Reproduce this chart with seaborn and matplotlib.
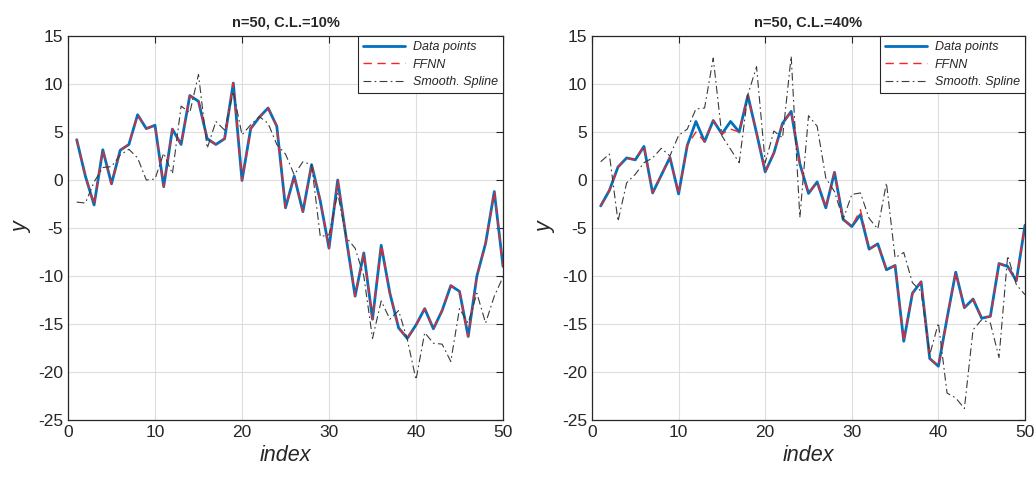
# coding:utf-8 #
import numpy as np
import pandas as pd
import matplotlib.pyplot as plt
import seaborn as sns

sns.set_style('white')
plt.rcParams['font.family'] = ['Liberation Sans', 'DejaVu Sans']
plt.rcParams['axes.unicode_minus'] = False

idx = list(range(1, 51))

# n=50, C.L.=10%
data_10 = [4.2, 0.4, -2.6, 3.15, -0.4, 3.1, 3.7, 6.8, 5.35, 5.7,
           -0.7, 5.3, 3.7, 8.8, 8.2, 4.3, 3.7, 4.3, 10.1, -0.05,
           5.35, 6.55, 7.5, 5.6, -2.9, 0.4, -3.3, 1.6, -2.2, -7.1,
           0.0, -6.2, -12.1, -7.6, -14.5, -6.8, -11.8, -15.4, -16.5, -15.1,
           -13.4, -15.5, -13.6, -11.0, -11.6, -16.3, -10.0, -6.6, -1.2, -9.0]
ffnn_10 = [4.2, 0.4, -2.6, 3.15, -0.4, 3.1, 3.7, 6.8, 5.35, 5.7,
           -0.7, 5.3, 3.7, 8.8, 8.2, 4.3, 3.7, 4.3, 10.1, -0.05,
           5.35, 6.55, 7.5, 5.6, -2.9, 0.4, -3.3, 1.6, -2.2, -7.1,
           0.0, -6.2, -12.1, -7.6, -14.5, -6.8, -11.8, -15.4, -16.5, -15.1,
           -13.4, -15.5, -13.6, -11.0, -11.6, -16.3, -10.0, -6.6, -1.2, -9.0]
spline_10 = [-2.3, -2.4, -0.2, 1.3, 1.4, 2.6, 3.2, 2.3, 0.0, 0.1,
             2.8, 0.65, 7.7, 7.0, 11.0, 3.3, 6.1, 5.2, 9.2, 4.7,
             5.75, 6.6, 5.9, 3.7, 2.7, 0.55, 1.9, 1.6, -5.9, -5.7,
             -1.4, -6.0, -7.1, -10.0, -16.5, -12.6, -14.5, -13.6, -16.6, -20.8,
             -15.9, -17.0, -17.1, -18.9, -13.4, -14.9, -11.8, -14.9, -12.1, -10.1]

# n=50, C.L.=40%
data_40 = [-2.7, -1.1, 1.35, 2.3, 2.1, 3.5, -1.35, 0.5, 2.35, -1.45,
           3.6, 6.1, 4.0, 6.2, 4.8, 6.1, 5.0, 8.8, 4.9, 0.85,
           2.8, 5.9, 7.15, 1.7, -1.4, -0.2, -2.9, 0.8, -4.1, -4.85,
           -3.6, -7.2, -6.65, -9.35, -8.9, -16.8, -11.8, -10.6, -18.6, -19.4,
           -14.4, -9.6, -13.3, -12.4, -14.4, -14.2, -8.7, -9.0, -10.5, -4.7]
ffnn_40 = [-2.7, -1.1, 1.35, 2.3, 2.1, 3.6, -1.35, 0.5, 2.35, -1.45,
           3.6, 5.0, 4.0, 6.2, 4.8, 5.3, 5.0, 8.8, 4.9, 0.85,
           2.8, 5.9, 7.15, 1.7, -1.4, -0.2, -2.9, 0.8, -4.1, -4.85,
           -3.1, -7.2, -6.65, -9.35, -8.9, -16.8, -11.8, -10.6, -18.6, -19.4,
           -14.4, -9.6, -13.3, -12.4, -14.4, -14.2, -8.7, -9.0, -10.5, -4.7]
spline_40 = [1.9, 2.7, -4.3, -0.3, 0.6, 1.8, 2.3, 3.3, 2.5, 4.65,
             5.3, 7.4, 7.5, 12.7, 4.6, 3.2, 1.8, 8.9, 11.8, 1.8,
             5.1, 4.4, 12.9, -3.9, 6.7, 5.6, 0.2, -1.2, -4.1, -1.5,
             -1.35, -4.0, -5.1, -0.3, -8.1, -7.55, -10.7, -11.6, -18.2, -14.9,
             -22.2, -22.7, -23.8, -15.6, -14.55, -14.9, -18.5, -7.9, -10.9, -11.95]

panels = [("n=50, C.L.=10%", data_10, ffnn_10, spline_10),
          ("n=50, C.L.=40%", data_40, ffnn_40, spline_40)]

fig = plt.figure(figsize=(10.34, 4.83), dpi=100)
rects = [[68/1034, 63/483, 435/1034, 384/483],
         [592/1034, 63/483, 433/1034, 384/483]]

for rect, (title, dp, ff, sp) in zip(rects, panels):
    ax = fig.add_axes(rect)
    df = pd.DataFrame({'index': idx, 'Data points': dp, 'FFNN': ff, 'Smooth. Spline': sp})
    sns.lineplot(data=df, x='index', y='Data points', ax=ax, color='#0072BD',
                 lw=2.0, label='Data points')
    sns.lineplot(data=df, x='index', y='FFNN', ax=ax, color='#FF2020',
                 lw=1.0, label='FFNN')
    ax.lines[-1].set_dashes([6, 4])
    sns.lineplot(data=df, x='index', y='Smooth. Spline', ax=ax, color='#3a3a3a',
                 lw=0.8, label='Smooth. Spline')
    ax.lines[-1].set_linestyle((0, (7, 3, 1.5, 3)))
    ax.set_xlim(0, 50)
    ax.set_ylim(-25, 15)
    ax.set_xticks([0, 10, 20, 30, 40, 50])
    ax.set_yticks(np.arange(-25, 16, 5))
    ax.grid(True, color='#dedede', lw=0.8)
    ax.tick_params(direction='in', length=5, labelsize=12.5, colors='#262626',
                   top=True, right=True, width=0.8)
    for s in ax.spines.values():
        s.set_color('#262626')
        s.set_linewidth(0.9)
    ax.set_title(title, fontsize=10.5, fontweight='bold', pad=7)
    ax.set_xlabel('index', fontsize=15.5, style='italic', color='#262626', labelpad=4)
    ax.set_ylabel('y', fontsize=15.5, style='italic', color='#262626', labelpad=4)
    leg = ax.legend(loc='upper right', borderaxespad=0.0,
                    prop={'style': 'italic', 'size': 9}, handlelength=3.4,
                    fancybox=False, framealpha=1, edgecolor='#262626',
                    borderpad=0.4, labelspacing=0.45, handletextpad=0.6)
    leg.get_frame().set_linewidth(0.8)

plt.savefig("out.png", dpi=100)
